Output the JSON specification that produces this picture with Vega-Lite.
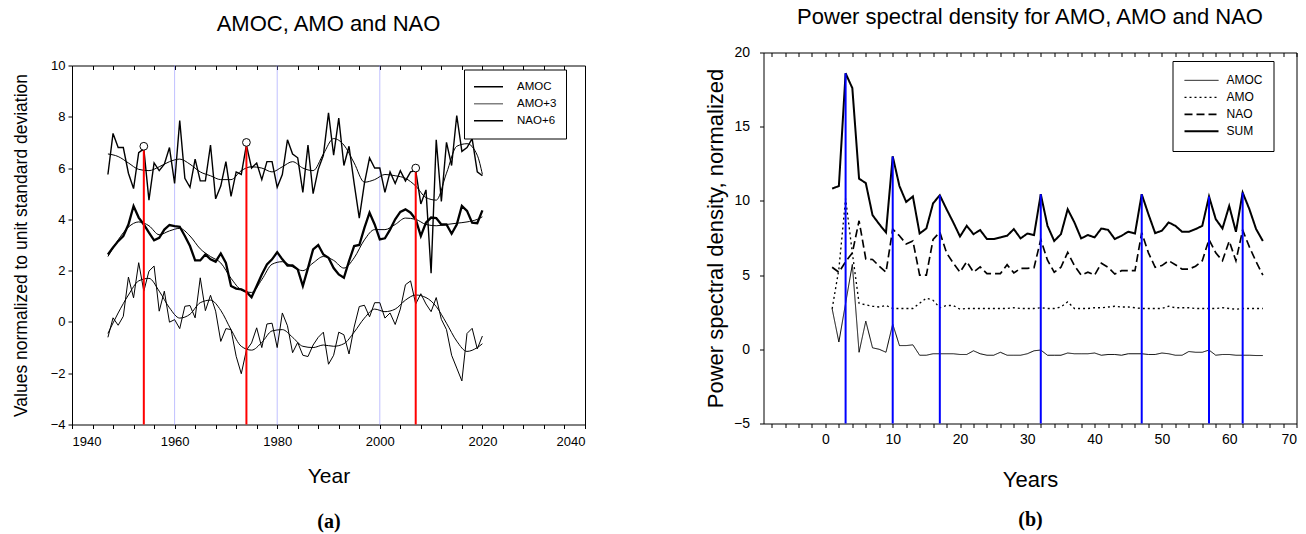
{
  "$schema": "https://vega.github.io/schema/vega-lite/v6.json",
  "background": "white",
  "padding": {"left": 11, "top": 5.5, "right": 5, "bottom": 0},
  "config": {
    "font": "Liberation Sans",
    "view": {"stroke": "black", "strokeWidth": 1},
    "axis": {"grid": false, "domain": false, "tickColor": "black", "labelColor": "black", "titleColor": "black", "labelFont": "Liberation Sans", "titleFont": "Liberation Sans", "titleFontWeight": "normal"},
    "title": {"font": "Liberation Sans", "fontWeight": "normal", "color": "black", "fontSize": 22, "frame": "group"}
  },
  "spacing": 117.5,
  "resolve": {"scale": {"color": "independent", "strokeDash": "independent", "strokeWidth": "independent"}, "legend": {"color": "independent", "strokeDash": "independent", "strokeWidth": "independent"}},
  "datasets": {
    "raw": [
      {"year":1947,"AMOC":-0.6,"AMO+3":2.63,"NAO+6":5.75},{"year":1948,"AMOC":0.16,"AMO+3":2.9,"NAO+6":7.35},{"year":1949,"AMOC":-0.13,"AMO+3":3.15,"NAO+6":6.8},{"year":1950,"AMOC":0.22,"AMO+3":3.35,"NAO+6":6.8},
      {"year":1951,"AMOC":1.75,"AMO+3":3.8,"NAO+6":5.8},{"year":1952,"AMOC":0.94,"AMO+3":4.52,"NAO+6":5.2},{"year":1953,"AMOC":2.31,"AMO+3":4.07,"NAO+6":6.6},{"year":1954,"AMOC":1.2,"AMO+3":3.8,"NAO+6":6.75},
      {"year":1955,"AMOC":1.98,"AMO+3":3.48,"NAO+6":4.75},{"year":1956,"AMOC":2.18,"AMO+3":3.18,"NAO+6":6.2},{"year":1957,"AMOC":0.42,"AMO+3":3.28,"NAO+6":5.9},{"year":1958,"AMOC":1.2,"AMO+3":3.6,"NAO+6":6.15},
      {"year":1959,"AMOC":-0.01,"AMO+3":3.78,"NAO+6":6.8},{"year":1960,"AMOC":0.09,"AMO+3":3.74,"NAO+6":5.4},{"year":1961,"AMOC":-0.26,"AMO+3":3.71,"NAO+6":7.85},{"year":1962,"AMOC":0.61,"AMO+3":3.35,"NAO+6":5.6},
      {"year":1963,"AMOC":0.64,"AMO+3":2.96,"NAO+6":5.25},{"year":1964,"AMOC":0.16,"AMO+3":2.4,"NAO+6":6.35},{"year":1965,"AMOC":1.72,"AMO+3":2.4,"NAO+6":5.5},{"year":1966,"AMOC":0.44,"AMO+3":2.63,"NAO+6":5.5},
      {"year":1967,"AMOC":1.04,"AMO+3":2.44,"NAO+6":6.9},{"year":1968,"AMOC":0.42,"AMO+3":2.35,"NAO+6":4.8},{"year":1969,"AMOC":-0.76,"AMO+3":2.67,"NAO+6":5.3},{"year":1970,"AMOC":-0.26,"AMO+3":2.3,"NAO+6":6.25},
      {"year":1971,"AMOC":-0.3,"AMO+3":1.4,"NAO+6":4.9},{"year":1972,"AMOC":-1.34,"AMO+3":1.3,"NAO+6":5.85},{"year":1973,"AMOC":-2.02,"AMO+3":1.27,"NAO+6":5.75},{"year":1974,"AMOC":-1.1,"AMO+3":1.17,"NAO+6":6.9},
      {"year":1975,"AMOC":-0.82,"AMO+3":0.96,"NAO+6":6.0},{"year":1976,"AMOC":-0.23,"AMO+3":1.4,"NAO+6":6.2},{"year":1977,"AMOC":-1.0,"AMO+3":1.85,"NAO+6":5.55},{"year":1978,"AMOC":-0.08,"AMO+3":2.24,"NAO+6":6.25},
      {"year":1979,"AMOC":-0.05,"AMO+3":2.44,"NAO+6":6.25},{"year":1980,"AMOC":-1.0,"AMO+3":2.72,"NAO+6":5.25},{"year":1981,"AMOC":0.35,"AMO+3":2.44,"NAO+6":5.75},{"year":1982,"AMOC":-0.15,"AMO+3":2.2,"NAO+6":7.1},
      {"year":1983,"AMOC":-1.2,"AMO+3":2.2,"NAO+6":6.55},{"year":1984,"AMOC":-0.8,"AMO+3":2.05,"NAO+6":6.4},{"year":1985,"AMOC":-1.3,"AMO+3":1.4,"NAO+6":5.05},{"year":1986,"AMOC":-1.35,"AMO+3":2.1,"NAO+6":6.9},
      {"year":1987,"AMOC":-0.9,"AMO+3":2.83,"NAO+6":5.0},{"year":1988,"AMOC":-0.6,"AMO+3":3.0,"NAO+6":5.95},{"year":1989,"AMOC":-0.4,"AMO+3":2.63,"NAO+6":6.5},{"year":1990,"AMOC":-1.65,"AMO+3":2.5,"NAO+6":8.15},
      {"year":1991,"AMOC":-1.3,"AMO+3":2.1,"NAO+6":6.5},{"year":1992,"AMOC":-0.4,"AMO+3":1.85,"NAO+6":7.95},{"year":1993,"AMOC":-0.5,"AMO+3":1.72,"NAO+6":6.1},{"year":1994,"AMOC":-1.25,"AMO+3":2.37,"NAO+6":6.85},
      {"year":1995,"AMOC":-0.2,"AMO+3":2.96,"NAO+6":5.4},{"year":1996,"AMOC":0.6,"AMO+3":3.0,"NAO+6":4.05},{"year":1997,"AMOC":0.65,"AMO+3":3.67,"NAO+6":5.4},{"year":1998,"AMOC":0.2,"AMO+3":4.26,"NAO+6":6.4},
      {"year":1999,"AMOC":0.75,"AMO+3":3.8,"NAO+6":6.0},{"year":2000,"AMOC":0.75,"AMO+3":3.22,"NAO+6":6.0},{"year":2001,"AMOC":0.15,"AMO+3":3.26,"NAO+6":5.05},{"year":2002,"AMOC":0.35,"AMO+3":3.6,"NAO+6":5.85},
      {"year":2003,"AMOC":-0.1,"AMO+3":4.0,"NAO+6":5.4},{"year":2004,"AMOC":0.5,"AMO+3":4.29,"NAO+6":5.9},{"year":2005,"AMOC":1.45,"AMO+3":4.39,"NAO+6":5.5},{"year":2006,"AMOC":1.6,"AMO+3":4.26,"NAO+6":5.85},
      {"year":2007,"AMOC":0.7,"AMO+3":4.0,"NAO+6":5.9},{"year":2008,"AMOC":1.1,"AMO+3":3.35,"NAO+6":4.6},{"year":2009,"AMOC":0.7,"AMO+3":3.87,"NAO+6":5.15},{"year":2010,"AMOC":0.4,"AMO+3":4.07,"NAO+6":1.9},
      {"year":2011,"AMOC":0.95,"AMO+3":4.05,"NAO+6":7.1},{"year":2012,"AMOC":0.1,"AMO+3":3.8,"NAO+6":4.7},{"year":2013,"AMOC":-0.3,"AMO+3":3.8,"NAO+6":7.0},{"year":2014,"AMOC":-1.3,"AMO+3":3.44,"NAO+6":6.1},
      {"year":2015,"AMOC":-1.8,"AMO+3":3.8,"NAO+6":8.05},{"year":2016,"AMOC":-2.3,"AMO+3":4.52,"NAO+6":6.65},{"year":2017,"AMOC":-0.45,"AMO+3":4.33,"NAO+6":6.8},{"year":2018,"AMOC":-0.25,"AMO+3":3.87,"NAO+6":7.15},
      {"year":2019,"AMOC":-1.05,"AMO+3":3.85,"NAO+6":5.85},{"year":2020,"AMOC":-0.55,"AMO+3":4.35,"NAO+6":5.7}
    ],
    "smooth": [
      {"year":1947,"AMOC":-0.45,"AMO+3":2.55,"NAO+6":6.55},{"year":1949,"AMOC":0.35,"AMO+3":3.2,"NAO+6":6.45},{"year":1951,"AMOC":1.05,"AMO+3":3.7,"NAO+6":6.2},{"year":1953,"AMOC":1.6,"AMO+3":3.9,"NAO+6":5.95},
      {"year":1955,"AMOC":1.7,"AMO+3":3.75,"NAO+6":5.9},{"year":1957,"AMOC":1.2,"AMO+3":3.4,"NAO+6":6.05},{"year":1959,"AMOC":0.55,"AMO+3":3.55,"NAO+6":6.25},{"year":1961,"AMOC":0.15,"AMO+3":3.65,"NAO+6":6.35},
      {"year":1963,"AMOC":0.3,"AMO+3":3.35,"NAO+6":6.15},{"year":1965,"AMOC":0.75,"AMO+3":2.85,"NAO+6":5.85},{"year":1967,"AMOC":0.85,"AMO+3":2.55,"NAO+6":5.7},{"year":1969,"AMOC":0.45,"AMO+3":2.3,"NAO+6":5.55},
      {"year":1971,"AMOC":-0.3,"AMO+3":1.7,"NAO+6":5.55},{"year":1973,"AMOC":-0.95,"AMO+3":1.25,"NAO+6":5.9},{"year":1975,"AMOC":-1.1,"AMO+3":1.15,"NAO+6":6.05},{"year":1977,"AMOC":-0.8,"AMO+3":1.65,"NAO+6":6.0},
      {"year":1979,"AMOC":-0.35,"AMO+3":2.25,"NAO+6":5.85},{"year":1981,"AMOC":-0.3,"AMO+3":2.35,"NAO+6":6.05},{"year":1983,"AMOC":-0.6,"AMO+3":2.15,"NAO+6":6.25},{"year":1985,"AMOC":-0.95,"AMO+3":2.0,"NAO+6":6.0},
      {"year":1987,"AMOC":-1.0,"AMO+3":2.3,"NAO+6":5.9},{"year":1989,"AMOC":-0.9,"AMO+3":2.55,"NAO+6":6.55},{"year":1991,"AMOC":-0.95,"AMO+3":2.4,"NAO+6":7.15},{"year":1993,"AMOC":-0.85,"AMO+3":2.1,"NAO+6":6.9},
      {"year":1995,"AMOC":-0.4,"AMO+3":2.5,"NAO+6":6.2},{"year":1997,"AMOC":0.15,"AMO+3":3.2,"NAO+6":5.45},{"year":1999,"AMOC":0.5,"AMO+3":3.6,"NAO+6":5.55},{"year":2001,"AMOC":0.4,"AMO+3":3.6,"NAO+6":5.75},
      {"year":2003,"AMOC":0.5,"AMO+3":3.8,"NAO+6":5.7},{"year":2005,"AMOC":0.85,"AMO+3":4.05,"NAO+6":5.6},{"year":2007,"AMOC":1.05,"AMO+3":4.0,"NAO+6":5.3},{"year":2009,"AMOC":0.95,"AMO+3":3.8,"NAO+6":4.85},
      {"year":2011,"AMOC":0.6,"AMO+3":3.75,"NAO+6":4.75},{"year":2013,"AMOC":-0.05,"AMO+3":3.8,"NAO+6":5.8},{"year":2015,"AMOC":-0.75,"AMO+3":3.85,"NAO+6":6.85},{"year":2017,"AMOC":-1.15,"AMO+3":3.9,"NAO+6":6.95},
      {"year":2019,"AMOC":-1.0,"AMO+3":4.0,"NAO+6":6.5},{"year":2020,"AMOC":-0.85,"AMO+3":4.1,"NAO+6":5.75}
    ],
    "peaks": [
      {"year":1954,"top":6.72,"peak":6.85},{"year":1974,"top":6.87,"peak":7.0},{"year":2007,"top":5.87,"peak":6.0}
    ],
    "decades": [{"year":1960},{"year":1980},{"year":2000}],
    "spec": [
      {"p":1,"AMOC":2.73,"AMO":2.73,"NAO":5.53,"SUM":10.83},{"p":2,"AMOC":0.49,"AMO":5.4,"NAO":5.19,"SUM":11.0},{"p":3,"AMOC":3.1,"AMO":10.15,"NAO":5.9,"SUM":18.6},{"p":4,"AMOC":5.72,"AMO":6.5,"NAO":6.5,"SUM":17.6},
      {"p":5,"AMOC":-0.2,"AMO":3.1,"NAO":8.66,"SUM":11.5},{"p":6,"AMOC":1.9,"AMO":3.0,"NAO":6.09,"SUM":11.2},{"p":7,"AMOC":0.1,"AMO":2.9,"NAO":6.05,"SUM":9.04},{"p":8,"AMOC":0.0,"AMO":2.85,"NAO":5.6,"SUM":8.43},
      {"p":9,"AMOC":-0.2,"AMO":2.95,"NAO":5.19,"SUM":7.87},{"p":10,"AMOC":1.7,"AMO":2.75,"NAO":8.1,"SUM":13.0},{"p":11,"AMOC":0.25,"AMO":2.75,"NAO":7.65,"SUM":11.0},{"p":12,"AMOC":0.25,"AMO":2.75,"NAO":7.1,"SUM":9.93},
      {"p":13,"AMOC":0.3,"AMO":2.75,"NAO":7.3,"SUM":10.3},{"p":14,"AMOC":-0.4,"AMO":3.1,"NAO":5.0,"SUM":7.8},{"p":15,"AMOC":-0.4,"AMO":3.45,"NAO":5.0,"SUM":8.14},{"p":16,"AMOC":-0.3,"AMO":3.3,"NAO":7.4,"SUM":9.84},
      {"p":17,"AMOC":-0.3,"AMO":2.8,"NAO":7.9,"SUM":10.38},{"p":18,"AMOC":-0.3,"AMO":2.95,"NAO":6.5,"SUM":9.44},{"p":19,"AMOC":-0.3,"AMO":2.95,"NAO":5.8,"SUM":8.55},{"p":20,"AMOC":-0.35,"AMO":2.7,"NAO":5.2,"SUM":7.6},
      {"p":21,"AMOC":-0.35,"AMO":2.75,"NAO":5.9,"SUM":8.32},{"p":22,"AMOC":-0.1,"AMO":2.75,"NAO":5.2,"SUM":7.76},{"p":23,"AMOC":-0.3,"AMO":2.75,"NAO":5.55,"SUM":8.03},{"p":24,"AMOC":-0.4,"AMO":2.75,"NAO":5.1,"SUM":7.43},
      {"p":25,"AMOC":-0.4,"AMO":2.75,"NAO":5.1,"SUM":7.43},{"p":26,"AMOC":-0.2,"AMO":2.75,"NAO":5.1,"SUM":7.54},{"p":27,"AMOC":-0.4,"AMO":2.75,"NAO":5.7,"SUM":7.65},{"p":28,"AMOC":-0.4,"AMO":2.8,"NAO":5.15,"SUM":8.1},
      {"p":29,"AMOC":-0.4,"AMO":2.75,"NAO":5.45,"SUM":7.47},{"p":30,"AMOC":-0.3,"AMO":2.75,"NAO":5.45,"SUM":7.8},{"p":31,"AMOC":-0.1,"AMO":2.75,"NAO":5.5,"SUM":7.7},{"p":32,"AMOC":-0.05,"AMO":2.8,"NAO":7.4,"SUM":10.45},
      {"p":33,"AMOC":-0.4,"AMO":2.75,"NAO":6.0,"SUM":8.32},{"p":34,"AMOC":-0.4,"AMO":2.75,"NAO":5.19,"SUM":7.3},{"p":35,"AMOC":-0.4,"AMO":2.85,"NAO":5.53,"SUM":7.76},{"p":36,"AMOC":-0.25,"AMO":3.2,"NAO":6.53,"SUM":9.44},
      {"p":37,"AMOC":-0.3,"AMO":2.75,"NAO":5.64,"SUM":8.55},{"p":38,"AMOC":-0.3,"AMO":2.75,"NAO":5.0,"SUM":7.47},{"p":39,"AMOC":-0.3,"AMO":2.75,"NAO":5.2,"SUM":7.7},{"p":40,"AMOC":-0.25,"AMO":2.8,"NAO":5.0,"SUM":7.54},
      {"p":41,"AMOC":-0.4,"AMO":2.8,"NAO":5.8,"SUM":8.14},{"p":42,"AMOC":-0.35,"AMO":2.85,"NAO":5.53,"SUM":8.05},{"p":43,"AMOC":-0.35,"AMO":2.9,"NAO":5.07,"SUM":7.43},{"p":44,"AMOC":-0.4,"AMO":2.85,"NAO":5.3,"SUM":7.65},
      {"p":45,"AMOC":-0.3,"AMO":2.85,"NAO":5.3,"SUM":7.92},{"p":46,"AMOC":-0.3,"AMO":2.8,"NAO":5.3,"SUM":7.8},{"p":47,"AMOC":-0.3,"AMO":2.75,"NAO":7.86,"SUM":10.45},{"p":48,"AMOC":-0.35,"AMO":2.75,"NAO":6.5,"SUM":9.1},
      {"p":49,"AMOC":-0.35,"AMO":2.75,"NAO":5.53,"SUM":7.83},{"p":50,"AMOC":-0.25,"AMO":2.75,"NAO":5.64,"SUM":7.99},{"p":51,"AMOC":-0.3,"AMO":2.9,"NAO":5.97,"SUM":8.55},{"p":52,"AMOC":-0.4,"AMO":2.8,"NAO":5.7,"SUM":8.32},
      {"p":53,"AMOC":-0.4,"AMO":2.8,"NAO":5.4,"SUM":7.92},{"p":54,"AMOC":-0.15,"AMO":2.8,"NAO":5.4,"SUM":7.92},{"p":55,"AMOC":-0.2,"AMO":2.75,"NAO":5.6,"SUM":8.1},{"p":56,"AMOC":-0.2,"AMO":2.75,"NAO":5.97,"SUM":8.32},
      {"p":57,"AMOC":-0.05,"AMO":2.75,"NAO":7.4,"SUM":10.3},{"p":58,"AMOC":-0.4,"AMO":2.75,"NAO":6.5,"SUM":8.77},{"p":59,"AMOC":-0.35,"AMO":2.8,"NAO":5.97,"SUM":8.14},{"p":60,"AMOC":-0.35,"AMO":2.75,"NAO":7.29,"SUM":9.66},
      {"p":61,"AMOC":-0.4,"AMO":2.7,"NAO":5.97,"SUM":7.92},{"p":62,"AMOC":-0.4,"AMO":2.75,"NAO":8.03,"SUM":10.56},{"p":63,"AMOC":-0.4,"AMO":2.75,"NAO":6.9,"SUM":9.44},{"p":64,"AMOC":-0.42,"AMO":2.75,"NAO":5.9,"SUM":8.1},
      {"p":65,"AMOC":-0.42,"AMO":2.75,"NAO":5.0,"SUM":7.3}
    ],
    "specpeaks": [
      {"p":3,"top":18.6},{"p":10,"top":13.0},{"p":17,"top":10.38},{"p":32,"top":10.45},{"p":47,"top":10.45},{"p":57,"top":10.3},{"p":62,"top":10.56}
    ]
  },
  "hconcat": [
    {
      "spacing": 0,
      "resolve": {"scale": {"color": "independent"}, "legend": {"color": "independent"}},
      "vconcat": [
        {
          "width": 513,
          "height": 5.7,
          "title": {"text": "AMOC, AMO and NAO", "offset": 16.5},
          "view": {"stroke": null},
          "data": {"values": []},
          "mark": {"type": "point", "opacity": 0},
          "encoding": {}
        },
        {
          "width": 513,
          "height": 359,
          "resolve": {"scale": {"x": "independent"}},
          "layer": [
            {
              "data": {"name": "decades"},
              "mark": {"type": "rule", "color": "#8080ff", "strokeWidth": 1, "strokeDash": [1, 1]},
              "encoding": {
                "x": {"field": "year", "type": "quantitative", "scale": {"domain": [1940, 2040], "nice": false, "zero": false},
                  "axis": {"orient": "top", "values": [1940,1944,1948,1952,1956,1960,1964,1968,1972,1976,1980,1984,1988,1992,1996,2000,2004,2008,2012,2016,2020,2024,2028,2032,2036,2040], "labels": false, "tickSize": 4, "offset": -4, "title": null}}
              }
            },
            {
              "data": {"name": "smooth"},
              "transform": [{"fold": ["AMOC", "AMO+3", "NAO+6"], "as": ["series", "value"]}],
              "mark": {"type": "line", "color": "black", "strokeWidth": 1, "interpolate": "monotone"},
              "encoding": {
                "x": {"field": "year", "type": "quantitative", "scale": {"domain": [1940, 2040], "nice": false, "zero": false},
                  "axis": {"orient": "bottom", "labels": false, "ticks": false, "title": "(a)", "titleFont": "Liberation Serif", "titleFontWeight": "bold", "titleFontSize": 20, "titlePadding": 87}},
                "y": {"field": "value", "type": "quantitative", "scale": {"domain": [-4, 10], "nice": false, "zero": false},
                  "title": "Values normalized to unit standard deviation",
                  "axis": {"values": [-4, -2, 0, 2, 4, 6, 8, 10], "tickSize": 4, "labelPadding": 3, "labelFontSize": 13, "titleFontSize": 17.5, "titlePadding": 20}},
                "detail": {"field": "series"}
              }
            },
            {
              "data": {"name": "raw"},
              "transform": [{"fold": ["AMOC", "AMO+3", "NAO+6"], "as": ["series", "value"]}, {"filter": "datum.series !== 'AMO+3'"}],
              "mark": {"type": "line"},
              "encoding": {
                "x": {"field": "year", "type": "quantitative", "scale": {"domain": [1940, 2040], "nice": false, "zero": false},
                  "axis": {"orient": "bottom", "values": [1940,1944,1948,1952,1956,1960,1964,1968,1972,1976,1980,1984,1988,1992,1996,2000,2004,2008,2012,2016,2020,2024,2028,2032,2036,2040], "labelExpr": "datum.value % 20 === 0 ? datum.label : ''", "format": "d", "labelOverlap": false, "tickSize": 4, "labelPadding": 7, "labelFontSize": 13, "title": "Year", "titleFontSize": 21, "titlePadding": 17}},
                "y": {"field": "value", "type": "quantitative", "title": "Values normalized to unit standard deviation"},
                "strokeWidth": {"field": "series", "type": "nominal", "scale": {"domain": ["AMOC", "NAO+6"], "range": [1, 1.4]}, "legend": null},
                "color": {"field": "series", "type": "nominal",
                  "scale": {"domain": ["AMOC", "AMO+3", "NAO+6"], "range": ["black", "#808080", "black"]},
                  "legend": {"orient": "none", "legendX": 392, "legendY": 4, "title": null, "symbolType": "stroke", "symbolSize": 841, "symbolStrokeWidth": 1.5, "labelFontSize": 11.5, "labelFont": "Liberation Sans", "labelColor": "black", "labelOffset": 13, "padding": 9, "strokeColor": "black", "fillColor": "white", "clipHeight": 16.7, "rowPadding": 0}}
              }
            },
            {
              "data": {"name": "raw"},
              "transform": [{"fold": ["AMO+3"], "as": ["series", "value"]}],
              "mark": {"type": "line", "color": "black", "strokeWidth": 2.3},
              "encoding": {
                "x": {"field": "year", "type": "quantitative", "scale": {"domain": [1940, 2040], "nice": false, "zero": false}, "axis": null},
                "y": {"field": "value", "type": "quantitative", "title": "Values normalized to unit standard deviation"}
              }
            },
            {
              "data": {"name": "peaks"},
              "mark": {"type": "rule", "color": "#ff0000", "strokeWidth": 2},
              "encoding": {
                "x": {"field": "year", "type": "quantitative", "scale": {"domain": [1940, 2040], "nice": false, "zero": false}, "axis": null},
                "y": {"field": "top", "type": "quantitative", "title": "Values normalized to unit standard deviation"},
                "y2": {"datum": -4}
              }
            },
            {
              "data": {"name": "peaks"},
              "mark": {"type": "point", "shape": "circle", "filled": false, "fill": "white", "fillOpacity": 1, "stroke": "black", "strokeWidth": 1, "size": 60, "opacity": 1},
              "encoding": {
                "x": {"field": "year", "type": "quantitative", "scale": {"domain": [1940, 2040], "nice": false, "zero": false}, "axis": null},
                "y": {"field": "peak", "type": "quantitative", "title": "Values normalized to unit standard deviation"}
              }
            }
          ]
        }
      ]
    },
    {
      "resolve": {"scale": {"strokeDash": "independent", "strokeWidth": "independent"}, "legend": {"strokeDash": "independent", "strokeWidth": "independent"}},
      "vconcat": [
        {
          "width": 533,
          "height": 371,
          "title": {"text": "Power spectral density for AMO, AMO and NAO", "offset": 16.5},
          "resolve": {"scale": {"x": "independent"}},
          "layer": [
            {
              "data": {"name": "spec"},
              "transform": [{"fold": ["AMOC", "AMO", "NAO"], "as": ["series", "value"]}],
              "mark": {"type": "line", "color": "black"},
              "encoding": {
                "x": {"field": "p", "type": "quantitative", "scale": {"domain": [-9.2, 70], "nice": false, "zero": false},
                  "axis": {"orient": "bottom", "values": [-8,-6,-4,-2,0,2,4,6,8,10,12,14,16,18,20,22,24,26,28,30,32,34,36,38,40,42,44,46,48,50,52,54,56,58,60,62,64,66,68,70], "labelExpr": "datum.value % 10 === 0 ? datum.label : ''", "labelOverlap": false, "tickSize": 4, "labelPadding": 5, "labelFontSize": 14, "title": "Years", "titleFontSize": 22, "titlePadding": 23}},
                "y": {"field": "value", "type": "quantitative", "scale": {"domain": [-5, 20], "nice": false, "zero": false},
                  "title": "Power spectral density, normalized",
                  "axis": {"values": [-5, 0, 5, 10, 15, 20], "tickSize": 4, "labelPadding": 10, "labelFontSize": 14, "titleFontSize": 22, "titlePadding": 6}},
                "strokeDash": {"field": "series", "type": "nominal", "scale": {"domain": ["AMOC", "AMO", "NAO", "SUM"], "range": [[1, 0], [2, 3], [8, 4], [1, 0]]},
                  "legend": {"orient": "none", "legendX": 409, "legendY": 8.5, "title": null, "symbolType": "stroke", "symbolSize": 1156, "labelFontSize": 12, "labelColor": "black", "labelOffset": 7, "padding": 11, "strokeColor": "black", "fillColor": "white", "clipHeight": 16.7, "rowPadding": 0, "symbolStrokeColor": "black", "labelExpr": "datum.label + '\u00a0\u00a0'"}},
                "strokeWidth": {"field": "series", "type": "nominal", "scale": {"domain": ["AMOC", "AMO", "NAO", "SUM"], "range": [1, 2, 1.4, 2.6]},
                  "legend": {"orient": "none", "legendX": 409, "legendY": 8.5, "title": null, "symbolType": "stroke", "symbolSize": 1156, "labelFontSize": 12, "labelColor": "black", "labelOffset": 7, "padding": 11, "strokeColor": "black", "fillColor": "white", "clipHeight": 16.7, "rowPadding": 0, "symbolStrokeColor": "black", "labelExpr": "datum.label + '\u00a0\u00a0'"}}
              }
            },
            {
              "data": {"name": "spec"},
              "transform": [{"fold": ["SUM"], "as": ["series", "value"]}],
              "mark": {"type": "line", "color": "black"},
              "encoding": {
                "x": {"field": "p", "type": "quantitative", "scale": {"domain": [-9.2, 70], "nice": false, "zero": false},
                  "axis": {"orient": "bottom", "labels": false, "ticks": false, "title": "(b)", "titleFont": "Liberation Serif", "titleFontWeight": "bold", "titleFontSize": 20, "titlePadding": 86}},
                "y": {"field": "value", "type": "quantitative", "title": "Power spectral density, normalized"},
                "strokeDash": {"field": "series", "type": "nominal"},
                "strokeWidth": {"field": "series", "type": "nominal"}
              }
            },
            {
              "data": {"name": "specpeaks"},
              "mark": {"type": "rule", "color": "#0000ff", "strokeWidth": 2},
              "encoding": {
                "x": {"field": "p", "type": "quantitative", "scale": {"domain": [-9.2, 70], "nice": false, "zero": false},
                  "axis": {"orient": "top", "values": [-8,-6,-4,-2,0,2,4,6,8,10,12,14,16,18,20,22,24,26,28,30,32,34,36,38,40,42,44,46,48,50,52,54,56,58,60,62,64,66,68,70], "labels": false, "tickSize": 4, "offset": -4, "title": null}},
                "y": {"field": "top", "type": "quantitative", "title": "Power spectral density, normalized"},
                "y2": {"datum": -5}
              }
            }
          ]
        }
      ]
    }
  ]
}
